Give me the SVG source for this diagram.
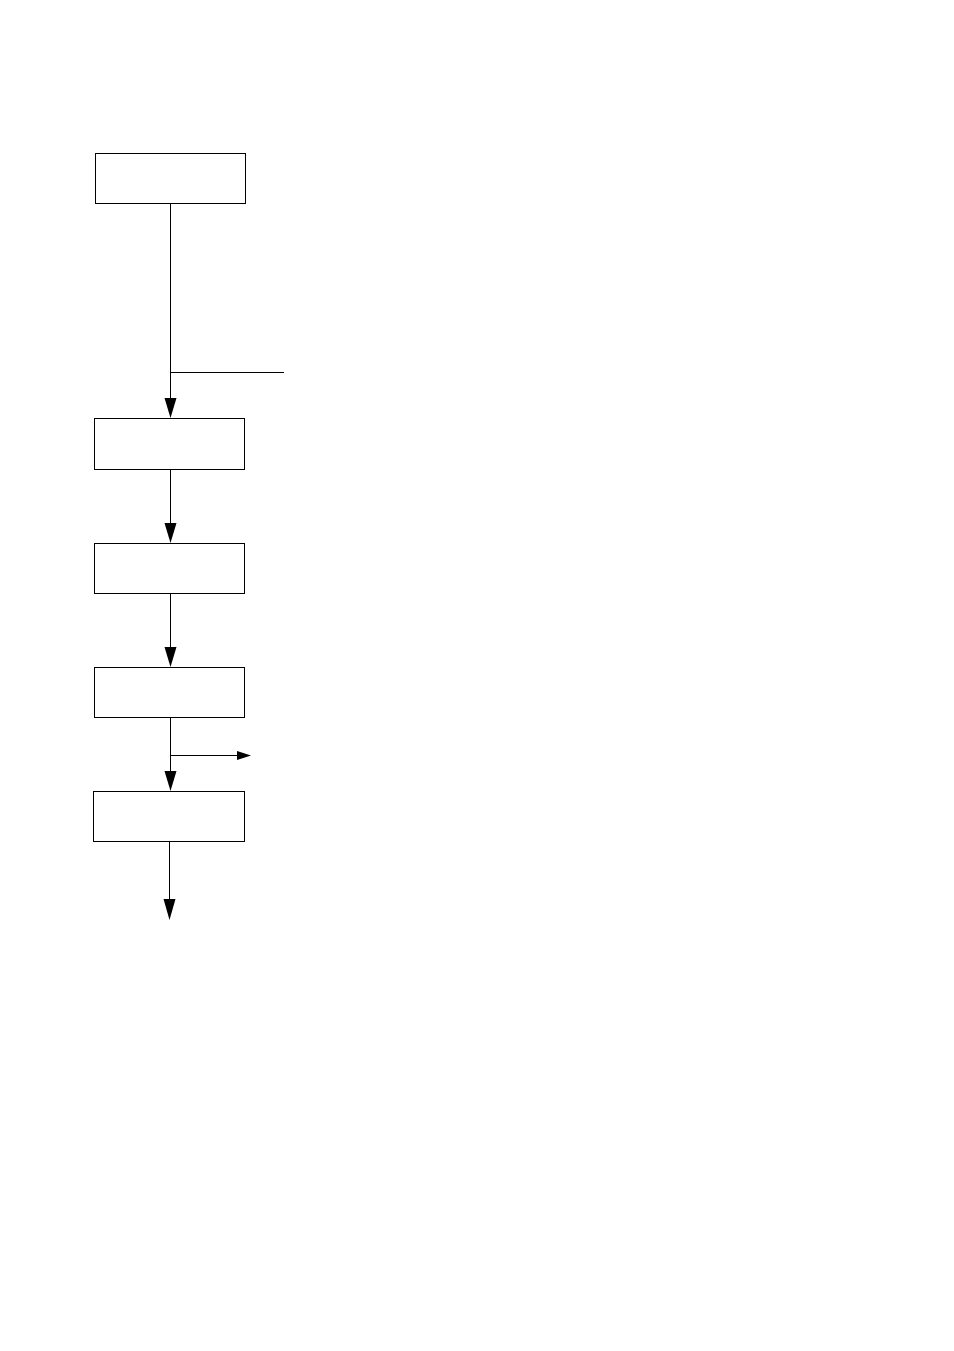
<svg xmlns="http://www.w3.org/2000/svg" width="954" height="1351" viewBox="0 0 954 1351">
<style>
.box{fill:#fff;stroke:#000;stroke-width:1}
.ln{fill:none;stroke:#000;stroke-width:1}
.ah{fill:#000;stroke:none}
</style>
<rect width="954" height="1351" fill="#fff"/>
<g id="connectors">
<path class="ln" d="M170.5 203 V400"/>
<path class="ln" d="M170.5 372.5 H284"/>
<polygon class="ah" points="164.5,398 176.5,398 170.5,418"/>
<path class="ln" d="M170.5 469 V525"/>
<polygon class="ah" points="164.5,523 176.5,523 170.5,543"/>
<path class="ln" d="M170.5 593 V649"/>
<polygon class="ah" points="164.5,647 176.5,647 170.5,667"/>
<path class="ln" d="M170.5 717 V773"/>
<path class="ln" d="M170.5 755.5 H238"/>
<polygon class="ah" points="237,751 251,755.5 237,760"/>
<polygon class="ah" points="164.5,771 176.5,771 170.5,791"/>
<path class="ln" d="M169.5 841 V902"/>
<polygon class="ah" points="163.5,899 175.5,899 169.5,920"/>
</g>
<g id="n1"><rect class="box" x="95.5" y="153.5" width="150" height="50"/></g>
<g id="n2"><rect class="box" x="94.5" y="418.5" width="150" height="51"/></g>
<g id="n3"><rect class="box" x="94.5" y="543.5" width="150" height="50"/></g>
<g id="n4"><rect class="box" x="94.5" y="667.5" width="150" height="50"/></g>
<g id="n5"><rect class="box" x="93.5" y="791.5" width="151" height="50"/></g>
</svg>
